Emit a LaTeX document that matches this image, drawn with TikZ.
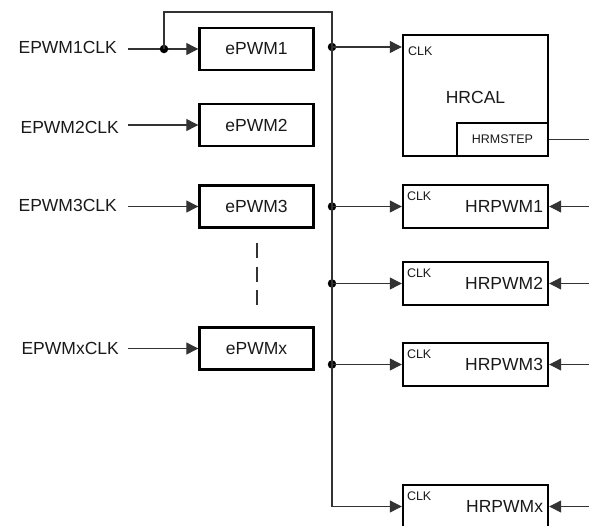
\documentclass[tikz,border=0pt]{standalone}
\usepackage{fontspec}
\setmainfont{Liberation Sans}
\usetikzlibrary{arrows.meta}
\begin{document}
\begin{tikzpicture}[x=1pt,y=-1pt,
  blk/.style={draw=black,line width=2.4pt,inner sep=0pt,font=\fontsize{17.5}{20}\selectfont,text=black!90},
  wire/.style={draw=black!80,line width=1.2pt},
  arr/.style={wire,-{Triangle[length=12pt,width=12pt]}},
  lbl/.style={font=\fontsize{17.5}{20}\selectfont,text=black!90,inner sep=0pt},
  small/.style={font=\fontsize{12.5}{14}\selectfont,text=black!90,inner sep=0pt},
  dot/.style={circle,fill=black,inner sep=0pt,minimum size=8.5pt}]
\useasboundingbox (0,0) rectangle (589,525);
% ePWM blocks
\node[blk,minimum width=114pt,minimum height=42pt] (p1) at (256.5,49) {ePWM1};
\node[blk,minimum width=114pt,minimum height=42pt] (p2) at (256.5,125) {ePWM2};
\node[blk,minimum width=114pt,minimum height=42pt] (p3) at (256.5,206.5) {ePWM3};
\node[blk,minimum width=114pt,minimum height=42pt] (px) at (256.5,348.5) {ePWMx};
% input labels
\node[lbl,anchor=east] (c1) at (117,47) {EPWM1CLK};
\node[lbl,anchor=east] (c2) at (119,127) {EPWM2CLK};
\node[lbl,anchor=east] (c3) at (117,205) {EPWM3CLK};
\node[lbl,anchor=east] (cx) at (119,348) {EPWMxCLK};
\coordinate (s1) at (128,49);
\coordinate (s2) at (128,125);
\coordinate (s3) at (128,206.5);
\coordinate (sx) at (128,348.5);
\draw[arr] (s1) -- (p1.west);
\draw[arr] (s2) -- (p2.west);
\draw[arr] (s3) -- (p3.west);
\draw[arr] (sx) -- (px.west);
% dashed continuation
\coordinate (d1) at (257,243);
\coordinate (d2) at (257,305);
\draw[wire,dash pattern=on 15pt off 8.5pt] (d1) -- (d2);
% HRCAL
\node[blk,minimum width=145pt,minimum height=121pt] (hc) at (475.5,95.5) {};
\node[lbl] (hct) at (475.5,97) {HRCAL};
\node[blk,minimum width=91pt,minimum height=33pt,font=\fontsize{12.5}{14}\selectfont] (hs) at (502.5,139.5) {HRMSTEP};
\node[small,anchor=west] (hcclk) at (408,51) {CLK};
% HRPWM blocks
\node[blk,minimum width=145pt,minimum height=43pt] (h1) at (475.5,206.5) {};
\node[blk,minimum width=145pt,minimum height=43pt] (h2) at (475.5,283.5) {};
\node[blk,minimum width=145pt,minimum height=43pt] (h3) at (475.5,364.5) {};
\node[blk,minimum width=145pt,minimum height=43pt] (hx) at (475.5,506.5) {};
\foreach \n/\t in {h1/HRPWM1,h2/HRPWM2,h3/HRPWM3,hx/HRPWMx}{
  \node[lbl,anchor=east] (\n t) at ([xshift=-6pt]\n.east) {\t};
  \node[small,anchor=west] (\n c) at ([xshift=5pt,yshift=-12pt]\n.north west) {CLK};
}
% bus
\coordinate (top1) at (164,12);
\coordinate (top2) at (332,12);
\node[dot] (fb) at (164,49) {};
\node[dot] (b0) at (332,47) {};
\node[dot] (b1) at (332,206.5) {};
\node[dot] (b2) at (332,283.5) {};
\node[dot] (b3) at (332,364.5) {};
\coordinate (bb) at (332,506.5);
\draw[wire] (fb.center) -- (top1) -- (top2) -- (bb);
\draw[arr] (bb) -- (hx.west);
\draw[arr] (b0.center) -- (hc.west |- b0);
\draw[arr] (b1.center) -- (h1.west);
\draw[arr] (b2.center) -- (h2.west);
\draw[arr] (b3.center) -- (h3.west);
% right side inputs
\coordinate (r1) at (589,206.5);
\coordinate (r2) at (589,283.5);
\coordinate (r3) at (589,364.5);
\coordinate (rx) at (589,506.5);
\coordinate (rs) at (589,139.5);
\draw[arr] (r1) -- (h1.east);
\draw[arr] (r2) -- (h2.east);
\draw[arr] (r3) -- (h3.east);
\draw[arr] (rx) -- (hx.east);
\draw[wire] (hs.east) -- (rs);
\end{tikzpicture}
\end{document}
